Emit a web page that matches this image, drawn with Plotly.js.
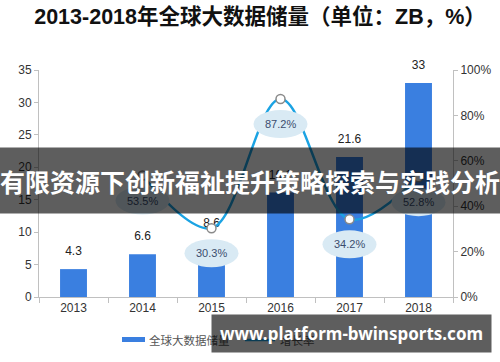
<!DOCTYPE html>
<html><head><meta charset="utf-8">
<script src="https://cdn.plot.ly/plotly-3.0.1.min.js"></script>
<style>html,body{margin:0;padding:0;background:#fff}#chart{width:500px;height:362px}</style>
</head><body><div id="chart"></div>
<script>
const years = ['2013','2014','2015','2016','2017','2018'];
const storage = [4.3, 6.6, 8.6, 16.1, 21.6, 33];
const growth = [null, 53.5, 30.3, 87.2, 34.2, 52.8];
const storageLabel = '全球大数据储量';
const growthLabel = '增长率';
const titleText = '2013-2018年全球大数据储量（单位：ZB，%）';
const bannerText = '有限资源下创新福祉提升策略探索与实践分析';
const watermarkText = 'www.platform-bwinsports.com';

const CJK = 'Liberation Sans, Arial, Noto Sans CJK SC, sans-serif';
const L = 39, R = 47, T = 70, B = 65, W = 500, H = 362;
const pw = W - L - R, ph = H - T - B;
const px = v => (v - L) / pw;
const py = v => (H - B - v) / ph;

const bars = {
  type: 'bar', x: years, y: storage, name: storageLabel,
  marker: {color: '#3a7fe0'},
  showlegend: false, hoverinfo: 'skip'
};
const line = {
  type: 'scatter', mode: 'lines+markers', x: years, y: growth, yaxis: 'y2', name: growthLabel,
  line: {color: '#1ba3e3', width: 2.5, shape: 'spline', smoothing: 1},
  marker: {size: 9, color: '#fff', line: {color: '#8a8a8a', width: 1.5}},
  connectgaps: false, showlegend: false, cliponaxis: false, hoverinfo: 'skip'
};
const barLabels = {
  type: 'scatter', mode: 'markers+text', x: years, y: storage,
  marker: {size: 16, color: 'rgba(0,0,0,0)'},
  text: storage.map(String), textposition: 'top center', cliponaxis: false,
  textfont: {family: 'Liberation Sans, Arial', size: 12, color: '#222'},
  showlegend: false, hoverinfo: 'skip'
};

const shapes = [];
const annotations = [];
years.forEach((yr, i) => {
  if (growth[i] == null) return;
  shapes.push({type: 'circle', layer: 'above', xref: 'x', yref: 'y2',
    xsizemode: 'pixel', ysizemode: 'pixel', xanchor: i, yanchor: growth[i],
    x0: -27, x1: 27, y0: -25 - 14, y1: -25 + 14,
    fillcolor: '#d9eaf4', line: {width: 0}});
  annotations.push({xref: 'x', yref: 'y2', x: i, y: growth[i], yshift: -25,
    text: growth[i].toFixed(1) + '%', showarrow: false,
    font: {family: 'Liberation Sans, Arial', size: 11, color: '#3b4d6e'}});
});
// legend
shapes.push({type: 'rect', layer: 'above', xref: 'paper', yref: 'paper',
  x0: px(122), x1: px(145), y0: py(342), y1: py(337), fillcolor: '#3a7fe0', line: {width: 0}});
annotations.push({xref: 'paper', yref: 'paper', x: px(147), y: py(340), xanchor: 'left', yanchor: 'middle',
  text: storageLabel, showarrow: false, font: {family: 'Noto Sans CJK SC', size: 11.5, color: '#555'}});
shapes.push({type: 'line', layer: 'above', xref: 'paper', yref: 'paper',
  x0: px(245), x1: px(275), y0: py(340), y1: py(340), line: {color: '#1ba3e3', width: 2.5}});
annotations.push({xref: 'paper', yref: 'paper', x: px(278), y: py(340), xanchor: 'left', yanchor: 'middle',
  text: growthLabel, showarrow: false, font: {family: 'Noto Sans CJK SC', size: 11.5, color: '#555'}});
// banner overlay
annotations.push({xref: 'paper', yref: 'paper', x: px(250), y: py(180), xanchor: 'center', yanchor: 'middle',
  width: 500, height: 65, borderpad: 0, bgcolor: 'rgba(0,0,0,0.63)',
  text: bannerText, showarrow: false,
  font: {family: 'Noto Sans CJK SC', size: 25, color: '#fff', weight: 'bold'}});
// watermark
annotations.push({xref: 'paper', yref: 'paper', x: px(351.5), y: py(333.5), xanchor: 'center', yanchor: 'middle',
  width: 279, height: 37, borderpad: 0, bgcolor: 'rgba(0,0,0,0.63)',
  text: watermarkText, showarrow: false,
  font: {family: 'Noto Sans, Open Sans, sans-serif', size: 17, color: '#fff', weight: 'bold'}});

const axisCommon = {showline: true, linecolor: '#c0c0c0', linewidth: 1, ticks: 'outside', ticklen: 4,
  tickcolor: '#c0c0c0', showgrid: false, zeroline: false,
  tickfont: {family: 'Liberation Sans, Arial', size: 12, color: '#333'}};

const layout = {
  width: W, height: H, margin: {l: L, r: R, t: T, b: B, pad: 0},
  paper_bgcolor: '#fff', plot_bgcolor: '#fff', showlegend: false, bargap: 0.61,
  title: {text: titleText, x: 0.52, xanchor: 'center', y: 1 - 16 / H, yanchor: 'middle', xref: 'container', yref: 'container',
    font: {family: CJK, size: 21.5, color: '#111', weight: 'bold'}},
  xaxis: Object.assign({}, axisCommon, {type: 'category', tickson: 'boundaries', ticklen: 5,
    categoryorder: 'array', categoryarray: years, range: [-0.5, years.length - 0.5], tickangle: 0}),
  yaxis: Object.assign({}, axisCommon, {range: [0, 35], dtick: 5, tick0: 0}),
  yaxis2: Object.assign({}, axisCommon, {range: [0, 100], dtick: 20, tick0: 0, ticksuffix: '%',
    overlaying: 'y', side: 'right'}),
  shapes: shapes, annotations: annotations
};
Plotly.newPlot('chart', [bars, line, barLabels], layout, {staticPlot: true});
</script></body></html>
